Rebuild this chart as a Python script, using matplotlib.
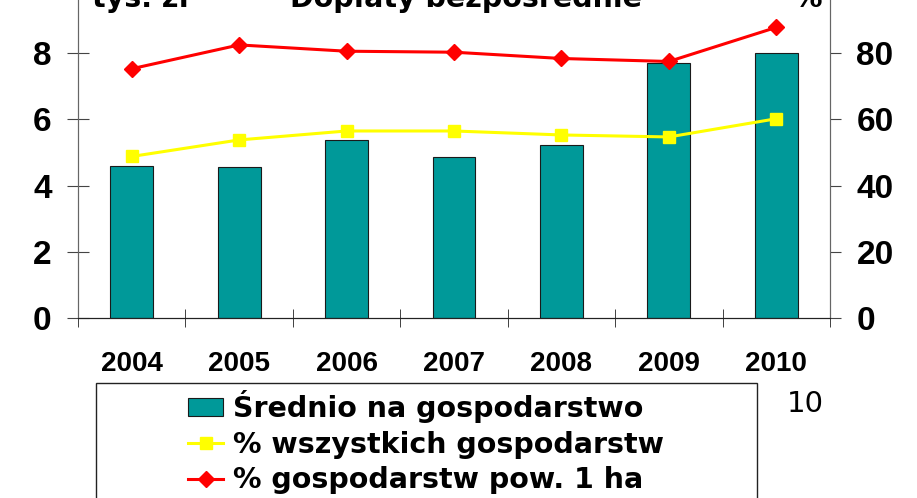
import matplotlib.pyplot as plt
from matplotlib.patches import Rectangle
import numpy as np

plt.rcParams['font.family'] = ['Liberation Sans', 'DejaVu Sans']

years = ['2004', '2005', '2006', '2007', '2008', '2009', '2010']
avg_farm = [4.6, 4.57, 5.38, 4.87, 5.22, 7.7, 8.02]          # tys. zl
pct_all = [48.8, 53.8, 56.5, 56.5, 55.3, 54.7, 60.2]          # %
pct_over1ha = [75.3, 82.5, 80.6, 80.3, 78.4, 77.5, 87.8]      # %

W, H = 917, 498
fig = plt.figure(figsize=(W / 100, H / 100), dpi=100)
ax = fig.add_axes([78 / W, 180 / H, 752 / W, 331 / H])
ax2 = ax.twinx()

x = np.arange(len(years))
bars = ax.bar(x, avg_farm, width=0.4, color='#009999', edgecolor='#1a1a1a',
              linewidth=0.8, label='Średnio na gospodarstwo', zorder=2)
l1, = ax2.plot(x, pct_all, color='#ffff00', lw=2.2, marker='s', ms=9,
               label='% wszystkich gospodarstw', zorder=3)
l2, = ax2.plot(x, pct_over1ha, color='#ff0000', lw=2.2, marker='D', ms=8.5,
               label='% gospodarstw pow. 1 ha', zorder=3)

ax.set_xlim(-0.5, 6.5)
ax.set_ylim(0, 10)
ax2.set_ylim(0, 100)
ax.set_yticks(np.arange(0, 11, 2))
ax2.set_yticks(np.arange(0, 101, 20))

ax.set_xticks(x)
ax.set_xticklabels(years, fontsize=20, fontweight='bold')
ax.tick_params(axis='x', which='major', length=0, pad=24)
ax.set_xticks(np.arange(-0.5, 7, 1), minor=True)
ax.tick_params(axis='x', which='minor', direction='inout', length=13, color='#222222')

ax.tick_params(axis='y', direction='inout', length=16, pad=11, labelsize=24, color='#444444')
ax2.tick_params(axis='y', direction='out', length=8, pad=11, labelsize=24, color='#444444')
for lab in ax.get_yticklabels() + ax2.get_yticklabels():
    lab.set_fontweight('bold')

for a in (ax, ax2):
    a.spines['top'].set_visible(False)
    a.spines['left'].set_color('#666666')
    a.spines['right'].set_color('#666666')
    a.spines['bottom'].set_color('#222222')

big = ['DejaVu Sans']
fig.text(92 / W, 1 - 7 / H, 'tys. zł', fontsize=20.5, fontweight='bold', family=big,
         va='baseline')
fig.text(466 / W, 1 - 7 / H, 'Dopłaty bezpośrednie', fontsize=20.5, fontweight='bold',
         family=big, va='baseline', ha='center')
fig.text(822 / W, 1 - 7 / H, '%', fontsize=20.5, fontweight='bold', family=big,
         va='baseline', ha='right')

# legend frame is wider than its content, draw it separately
fig.patches.append(Rectangle((96 / W, -0.1), (757 - 96) / W, 0.1 + 1 - 383 / H,
                             transform=fig.transFigure, fill=False,
                             edgecolor='#222222', lw=1.0))
fig.legend(handles=[bars, l1, l2], loc='upper left',
           bbox_to_anchor=(188 / W, 1 - 390 / H),
           prop={'size': 20.5, 'weight': 'bold', 'family': big}, frameon=False,
           borderpad=0, labelspacing=0.27, handlelength=1.23, handleheight=0.63,
           handletextpad=0.35, borderaxespad=0)
fig.text(787 / W, 1 - 404 / H, '10', fontsize=21, family=big, va='center')

fig.savefig('out.png', dpi=100)
